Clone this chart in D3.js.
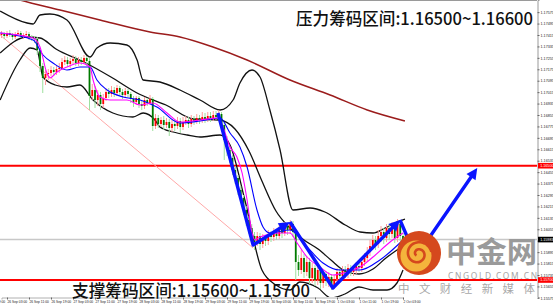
<!DOCTYPE html>
<html>
<head>
<meta charset="utf-8">
<script src="https://cdn.jsdelivr.net/npm/d3@7/dist/d3.min.js"></script>
<style>
  html, body { margin: 0; padding: 0; background: #fff; }
  svg { display: block; }
</style>
</head>
<body>
<svg id="chart" width="553" height="306"></svg>
<script>
'use strict';

// hourly candles, oldest first (open of each bar = previous close)
var firstOpen = 1.17415;
var closes = [
  1.17422, 1.17408, 1.17429, 1.17415, 1.17401, 1.17422, 1.17429, 1.17408, 1.17415, 1.17422,
  1.17401, 1.17394, 1.17387, 1.17310, 1.17198, 1.17114, 1.17142, 1.17149, 1.17170, 1.17156,
  1.17177, 1.17184, 1.17226, 1.17240, 1.17212, 1.17233, 1.17247, 1.17219, 1.17240, 1.17226,
  1.17254, 1.17233, 1.16988, 1.17030, 1.16960, 1.16995, 1.16932, 1.16974, 1.17016, 1.17002,
  1.17030, 1.17009, 1.17044, 1.17016, 1.16995, 1.17023, 1.17002, 1.16967, 1.16946, 1.16974,
  1.16932, 1.16918, 1.16960, 1.16939, 1.16967, 1.16778, 1.16834, 1.16792, 1.16820, 1.16785,
  1.16806, 1.16764, 1.16792, 1.16778, 1.16813, 1.16771, 1.16806, 1.16820, 1.16792, 1.16827,
  1.16813, 1.16834, 1.16820, 1.16841, 1.16827, 1.16848, 1.16834, 1.16855, 1.16841, 1.16862,
  1.16785, 1.16680, 1.16610, 1.16554, 1.16470, 1.16414, 1.16330, 1.16274, 1.16190, 1.16120,
  1.16064, 1.16008, 1.15966, 1.16008, 1.15952, 1.15994, 1.15973, 1.16022, 1.16001, 1.16036,
  1.16008, 1.16064, 1.16029, 1.16078, 1.16050, 1.16092, 1.16036, 1.15826, 1.15770, 1.15854,
  1.15756, 1.15826, 1.15714, 1.15784, 1.15700, 1.15770, 1.15679, 1.15742, 1.15693, 1.15721,
  1.15665, 1.15707, 1.15756, 1.15728, 1.15770, 1.15742, 1.15784, 1.15756, 1.15770, 1.15798,
  1.15784, 1.15826, 1.15854, 1.15896, 1.15938, 1.15980, 1.15952, 1.16008, 1.16036, 1.15994,
  1.16064, 1.16022, 1.16078, 1.15994, 1.16092, 1.16008, 1.15983
];
var highs = [
  1.17443, 1.17436, 1.17443, 1.17450, 1.17429, 1.17436, 1.17450, 1.17443, 1.17429, 1.17443,
  1.17436, 1.17415, 1.17408, 1.17401, 1.17324, 1.17219, 1.17170, 1.17177, 1.17198, 1.17191,
  1.17205, 1.17219, 1.17254, 1.17268, 1.17261, 1.17254, 1.17275, 1.17268, 1.17261, 1.17261,
  1.17275, 1.17268, 1.17254, 1.17072, 1.17058, 1.17030, 1.17016, 1.17002, 1.17044, 1.17044,
  1.17058, 1.17051, 1.17065, 1.17058, 1.17037, 1.17044, 1.17037, 1.17016, 1.16988, 1.16988,
  1.16988, 1.16953, 1.16981, 1.16974, 1.16995, 1.16981, 1.16862, 1.16855, 1.16841, 1.16848,
  1.16834, 1.16827, 1.16820, 1.16820, 1.16841, 1.16834, 1.16841, 1.16848, 1.16841, 1.16855,
  1.16848, 1.16862, 1.16855, 1.16876, 1.16869, 1.16876, 1.16876, 1.16883, 1.16883, 1.16890,
  1.16876, 1.16806, 1.16708, 1.16638, 1.16575, 1.16498, 1.16435, 1.16358, 1.16295, 1.16218,
  1.16148, 1.16092, 1.16036, 1.16036, 1.16029, 1.16022, 1.16015, 1.16050, 1.16043, 1.16064,
  1.16057, 1.16092, 1.16085, 1.16106, 1.16099, 1.16120, 1.16113, 1.16057, 1.15875, 1.15910,
  1.15882, 1.15868, 1.15854, 1.15819, 1.15805, 1.15798, 1.15784, 1.15770, 1.15763, 1.15756,
  1.15742, 1.15735, 1.15784, 1.15784, 1.15798, 1.15798, 1.15812, 1.15805, 1.15798, 1.15826,
  1.15826, 1.15854, 1.15889, 1.15931, 1.15980, 1.16015, 1.16008, 1.16050, 1.16078, 1.16064,
  1.16092, 1.16092, 1.16106, 1.16099, 1.16127, 1.16113, 1.16029
];
var lows = [
  1.17394, 1.17387, 1.17394, 1.17401, 1.17380, 1.17387, 1.17408, 1.17394, 1.17387, 1.17401,
  1.17380, 1.17373, 1.17359, 1.17275, 1.17156, 1.17009, 1.17065, 1.17100, 1.17128, 1.17128,
  1.17135, 1.17149, 1.17170, 1.17205, 1.17191, 1.17184, 1.17212, 1.17198, 1.17198, 1.17205,
  1.17212, 1.17198, 1.16890, 1.16960, 1.16904, 1.16918, 1.16890, 1.16904, 1.16953, 1.16974,
  1.16981, 1.16981, 1.16988, 1.16995, 1.16967, 1.16974, 1.16981, 1.16939, 1.16911, 1.16925,
  1.16904, 1.16890, 1.16897, 1.16918, 1.16925, 1.16743, 1.16757, 1.16764, 1.16771, 1.16750,
  1.16764, 1.16708, 1.16736, 1.16743, 1.16757, 1.16729, 1.16750, 1.16785, 1.16764, 1.16771,
  1.16785, 1.16792, 1.16792, 1.16799, 1.16799, 1.16806, 1.16806, 1.16813, 1.16820, 1.16827,
  1.16750, 1.16540, 1.16568, 1.16519, 1.16435, 1.16372, 1.16295, 1.16239, 1.16155, 1.16078,
  1.16022, 1.15966, 1.15910, 1.15938, 1.15910, 1.15924, 1.15938, 1.15945, 1.15966, 1.15973,
  1.15980, 1.15987, 1.15994, 1.16008, 1.16015, 1.16022, 1.16001, 1.15700, 1.15728, 1.15742,
  1.15714, 1.15728, 1.15672, 1.15679, 1.15658, 1.15665, 1.15637, 1.15644, 1.15658, 1.15651,
  1.15630, 1.15637, 1.15686, 1.15693, 1.15707, 1.15714, 1.15714, 1.15728, 1.15728, 1.15742,
  1.15756, 1.15756, 1.15798, 1.15826, 1.15868, 1.15910, 1.15910, 1.15924, 1.15966, 1.15952,
  1.15966, 1.15980, 1.15994, 1.15959, 1.15966, 1.15973, 1.15959
];

var timeTicks = [-6, 2, 10, 18, 26, 34, 42, 50, 58, 66, 74, 82, 90, 98, 106, 114, 122, 130, 138, 146];
var timeLabels = [
  '25 Sep 19:00', '26 Sep 03:00', '26 Sep 11:00', '26 Sep 19:00', '27 Sep 03:00',
  '27 Sep 11:00', '27 Sep 19:00', '28 Sep 03:00', '28 Sep 11:00', '28 Sep 19:00',
  '29 Sep 03:00', '29 Sep 11:00', '29 Sep 19:00', '30 Sep 03:00', '30 Sep 11:00',
  '30 Sep 19:00', '1 Oct 03:00', '1 Oct 11:00', '1 Oct 19:00', '2 Oct 03:00'
];
var priceTicks = [
  1.17575, 1.17495, 1.17415, 1.17335, 1.17255, 1.17175, 1.17095, 1.17015, 1.16935,
  1.16855, 1.16775, 1.16695, 1.16615, 1.16535, 1.16455, 1.16375, 1.16295, 1.16215,
  1.16135, 1.16055, 1.15975, 1.15895, 1.15815, 1.15735, 1.15655, 1.15575
];

// indicator lines as [candle, price]
var maFast = [
  [-0.5, 1.17429], [11.5, 1.17394], [14, 1.17331], [16.5, 1.17149], [17.6, 1.17114],
  [20.2, 1.17156], [23.8, 1.17191], [28.5, 1.17219], [32.2, 1.17191], [33.3, 1.17100],
  [35.8, 1.16981], [39.5, 1.16960], [45.6, 1.16960], [50.4, 1.16925], [55.1, 1.16939],
  [60.2, 1.16869], [64.9, 1.16806], [72.2, 1.16820], [78.4, 1.16834], [80.5, 1.16771],
  [83.1, 1.16631], [85.6, 1.16561], [87.5, 1.16449], [89.3, 1.16260], [91.1, 1.16029],
  [92.2, 1.15980], [94, 1.16001], [101.3, 1.16029], [104.9, 1.16029], [107.5, 1.15959],
  [111.1, 1.15861], [115.8, 1.15791], [120.5, 1.15735], [125.6, 1.15756], [130.4, 1.15791],
  [135.1, 1.15861], [141.3, 1.15966], [146, 1.16029]
];
var maSlow = [
  [-0.5, 1.17429], [11.5, 1.17380], [15.1, 1.17275], [18.7, 1.17219], [23.8, 1.17170],
  [28.5, 1.17191], [32.2, 1.17191], [34.7, 1.17100], [38.4, 1.17030], [44.2, 1.16981],
  [50.4, 1.16960], [56.5, 1.16911], [64.9, 1.16799], [72.2, 1.16813], [79.5, 1.16834],
  [83.1, 1.16729], [86.7, 1.16631], [89.3, 1.16491], [92.9, 1.16190], [95.1, 1.16071],
  [97.6, 1.16029], [104.9, 1.16050], [111.1, 1.15931], [116.9, 1.15819], [123.1, 1.15770],
  [130.4, 1.15770], [137.6, 1.15840], [146, 1.15980]
];
var bbUpper = [
  [-0.5, 1.17583], [9.3, 1.17499], [11.5, 1.17492], [14, 1.17555], [17.6, 1.17562],
  [23.8, 1.17520], [32.2, 1.17261], [34.7, 1.17324], [39.5, 1.17359], [45.6, 1.17345],
  [49.3, 1.17240], [51.5, 1.17100], [57.6, 1.17086], [64.9, 1.17030], [72.2, 1.16960],
  [79.5, 1.16890], [84.2, 1.16960], [86.7, 1.17079], [91.1, 1.17170], [94, 1.17121],
  [97.6, 1.16890], [101.3, 1.16610], [106, 1.16190], [112.2, 1.16204], [117.6, 1.16176],
  [125, 1.16085], [130.4, 1.16036], [135.1, 1.16029], [139.5, 1.16064], [143.8, 1.16106],
  [146.7, 1.16127]
];
var bbMiddle = [
  [-0.5, 1.17289], [9.3, 1.17401], [14, 1.17394], [19.8, 1.17317], [30, 1.17226],
  [39.8, 1.17121], [50, 1.17002], [59.8, 1.16925], [70, 1.16827], [79.1, 1.16820],
  [84.9, 1.16757], [90, 1.16603], [94.7, 1.16393], [99.8, 1.16183], [104.9, 1.16064],
  [110, 1.15980], [115.1, 1.15917], [119.8, 1.15840], [124.9, 1.15763], [130, 1.15742],
  [135.1, 1.15777], [139.8, 1.15854], [146, 1.15938]
];
var bbLower = [
  [-0.5, 1.16960], [6.7, 1.17240], [10.4, 1.17324], [12.9, 1.17310], [15.1, 1.17121],
  [19.5, 1.17065], [23.8, 1.17051], [28.5, 1.17065], [33.3, 1.16960], [40.5, 1.16869],
  [47.8, 1.16841], [51.5, 1.16869], [55.8, 1.16820], [57.6, 1.16771], [62.4, 1.16736],
  [67.5, 1.16715], [72.2, 1.16701], [79.5, 1.16715], [83.1, 1.16645], [88.5, 1.16260],
  [94.7, 1.15770], [99.8, 1.15665], [104.9, 1.15630], [108.5, 1.15686], [115.1, 1.15644],
  [119.8, 1.15574], [124.9, 1.15602], [130, 1.15651], [135.1, 1.15630], [140.2, 1.15630],
  [143.8, 1.15679], [146, 1.15770]
];
var maLong = [
  [-0.5, 1.17702], [6.7, 1.17660], [21.3, 1.17590], [35.8, 1.17520], [54, 1.17436],
  [64.9, 1.17401], [76.9, 1.17331], [89.3, 1.17240], [104.9, 1.17100], [119.5, 1.16995],
  [133, 1.16890], [146.7, 1.16813]
];

var resistance = 1.16500;
var support = 1.15700;
var lastPrice = 1.15983;

// hand drawn marks
var trendLine = [[-0.5, 1.17415], [91.5, 1.15924]];
var waveLegs = [
  [[78.7, 1.16869], [91.5, 1.15945], [104.9, 1.16106]],
  [[104.9, 1.16106], [120.5, 1.15644], [144.9, 1.16120]],
  [[144.9, 1.16120], [150.7, 1.15861], [173, 1.16484]]
];

var W = 553, H = 306;
var plotW = 537, plotH = 297;

var svg = d3.select('#chart');

var x = d3.scaleLinear().domain([0, 146]).range([1.5, 403]);
var y = d3.scaleLinear().domain([1.15581, 1.1766]).range([plotH, 0]);

svg.append('rect').attr('width', W).attr('height', H).attr('fill', '#fff');

svg.append('defs').append('clipPath').attr('id', 'plot-clip')
  .append('rect').attr('width', plotW).attr('height', plotH);

var plot = svg.append('g').attr('clip-path', 'url(#plot-clip)');

// horizontal levels
plot.append('line')
  .attr('x1', 0).attr('x2', plotW)
  .attr('y1', y(lastPrice)).attr('y2', y(lastPrice))
  .attr('stroke', '#c8c8c8').attr('stroke-width', 1.5);

[resistance, support].forEach(function (p) {
  plot.append('line')
    .attr('x1', 0).attr('x2', plotW)
    .attr('y1', y(p)).attr('y2', y(p))
    .attr('stroke', '#ff0000').attr('stroke-width', 2);
});

var line = d3.line()
  .x(function (d) { return x(d[0]); })
  .y(function (d) { return y(d[1]); });

plot.append('path').datum(trendLine)
  .attr('d', line)
  .attr('fill', 'none').attr('stroke', '#ffa8a8').attr('stroke-width', 1);

var smooth = d3.line()
  .x(function (d) { return x(d[0]); })
  .y(function (d) { return y(d[1]); })
  .curve(d3.curveMonotoneX);

function drawIndicator(points, color, width) {
  plot.append('path').datum(points)
    .attr('d', smooth)
    .attr('fill', 'none')
    .attr('stroke', color)
    .attr('stroke-width', width)
    .attr('stroke-linejoin', 'round');
}

drawIndicator(maLong, '#9b1c1c', 1.5);
drawIndicator(bbUpper, '#111', 1.3);
drawIndicator(bbMiddle, '#111', 1.3);
drawIndicator(bbLower, '#111', 1.3);

// candles
var candles = closes.map(function (c, i) {
  return { i: i, o: i === 0 ? firstOpen : closes[i - 1], c: c, h: highs[i], l: lows[i] };
});

var bars = plot.append('g').selectAll('g').data(candles).enter().append('g');

bars.append('line')
  .attr('x1', function (d) { return x(d.i); })
  .attr('x2', function (d) { return x(d.i); })
  .attr('y1', function (d) { return y(d.h); })
  .attr('y2', function (d) { return y(d.l); })
  .attr('stroke', function (d) { return d.c >= d.o ? '#ff9c9c' : '#9ee09e'; })
  .attr('stroke-width', 1);

bars.append('rect')
  .attr('x', function (d) { return x(d.i) - 0.9; })
  .attr('width', 1.8)
  .attr('y', function (d) { return y(Math.max(d.o, d.c)); })
  .attr('height', function (d) { return Math.max(0.8, Math.abs(y(d.o) - y(d.c))); })
  .attr('fill', function (d) { return d.c >= d.o ? '#ff0000' : '#007a00'; });

drawIndicator(maSlow, '#0000ff', 1.1);
drawIndicator(maFast, '#ff00ff', 1.1);

// wave arrows
var arrowColor = '#0a14ff';
waveLegs.forEach(function (leg) {
  var pts = leg.map(function (d) { return [x(d[0]), y(d[1])]; });
  var n = pts.length;
  var tip = pts[n - 1], prev = pts[n - 2];
  var a = Math.atan2(tip[1] - prev[1], tip[0] - prev[0]);
  var len = 11, half = 5.5;
  var base = [tip[0] - (len - 2) * Math.cos(a), tip[1] - (len - 2) * Math.sin(a)];
  var shaft = pts.slice(0, n - 1).concat([base]);

  plot.append('path')
    .attr('d', d3.line()(shaft))
    .attr('fill', 'none').attr('stroke', arrowColor)
    .attr('stroke-width', 3.4).attr('stroke-linejoin', 'round');

  var bx = tip[0] - len * Math.cos(a), by = tip[1] - len * Math.sin(a);
  plot.append('path')
    .attr('d', d3.line()([
      tip,
      [bx - half * Math.sin(a), by + half * Math.cos(a)],
      [bx + half * Math.sin(a), by - half * Math.cos(a)]
    ]) + 'Z')
    .attr('fill', arrowColor);
});

// frame
svg.append('line').attr('x1', 0).attr('x2', plotW).attr('y1', 0.5).attr('y2', 0.5)
  .attr('stroke', '#9a9a9a');

// price axis
var yAxis = svg.append('g')
  .attr('transform', 'translate(' + (plotW + 0.5) + ',0)')
  .call(d3.axisRight(y).tickValues(priceTicks).tickSize(2).tickPadding(1)
    .tickFormat(d3.format('.5f')));
yAxis.select('.domain').attr('stroke', '#9a9a9a');
yAxis.selectAll('.tick line').attr('stroke', '#666');
yAxis.selectAll('text')
  .attr('font-family', 'Liberation Sans, Arial, sans-serif')
  .attr('font-size', 3.7).attr('fill', '#222');

function priceTag(p, bg) {
  var g = svg.append('g').attr('transform', 'translate(' + (plotW + 1) + ',' + y(p) + ')');
  g.append('rect').attr('x', 0).attr('y', -2.8).attr('width', 15).attr('height', 5.6)
    .attr('fill', bg);
  g.append('text').attr('x', 2.2).attr('y', 1.3)
    .attr('font-family', 'Liberation Sans, Arial, sans-serif')
    .attr('font-size', 3.7).attr('fill', '#fff')
    .text(d3.format('.5f')(p));
}
priceTag(resistance, '#ff0000');
priceTag(support, '#ff0000');
priceTag(lastPrice, '#000');

// time axis
var xAxis = svg.append('g')
  .attr('transform', 'translate(0,' + (plotH + 0.5) + ')')
  .call(d3.axisBottom(x).tickValues(timeTicks).tickSize(2).tickPadding(1.5)
    .tickFormat(function (d, i) { return timeLabels[i]; }));
xAxis.select('.domain').attr('stroke', '#b0b0b0');
xAxis.selectAll('.tick line').attr('stroke', '#666');
xAxis.selectAll('text')
  .attr('text-anchor', 'start')
  .attr('font-family', 'Liberation Sans, Arial, sans-serif')
  .attr('font-size', 3.3).attr('fill', '#222');

// logo watermark
var logo = svg.append('g');
logo.append('circle').attr('cx', 419).attr('cy', 253).attr('r', 22).attr('fill', '#d5491d');
logo.append('circle').attr('cx', 416).attr('cy', 256).attr('r', 15.5).attr('fill', '#f4b43c');
var spiral = [];
for (var t = 0; t <= 3.2 * Math.PI; t += 0.2) {
  var r = 2 + t * 1.15;
  spiral.push([418 + r * Math.cos(t + 2.4), 254 + r * Math.sin(t + 2.4)]);
}
logo.append('path').attr('d', d3.line().curve(d3.curveBasis)(spiral))
  .attr('fill', 'none').attr('stroke', '#d5491d').attr('stroke-width', 2.6);

logo.append('text').attr('x', 446).attr('y', 262.5)
  .attr('font-family', 'Noto Sans CJK SC, sans-serif').attr('font-weight', 'bold')
  .attr('font-size', 29).attr('fill', '#9a9a9a').attr('textLength', 91)
  .attr('lengthAdjust', 'spacingAndGlyphs')
  .text('中金网');
logo.append('text').attr('x', 448).attr('y', 278.5)
  .attr('font-family', 'Noto Sans, sans-serif')
  .attr('font-size', 8.4).attr('fill', '#a4a4a4').attr('textLength', 89)
  .text('CNGOLD.COM.CN');
logo.append('text').attr('x', 398).attr('y', 292.5)
  .attr('font-family', 'Noto Sans CJK SC, sans-serif')
  .attr('font-size', 11.5).attr('fill', '#a8a8a8').attr('textLength', 137)
  .text('中文财经新媒体');

// zone captions
svg.append('text').attr('x', 296).attr('y', 25)
  .attr('font-family', 'Noto Sans CJK SC, sans-serif').attr('font-weight', 500)
  .attr('font-size', 17).attr('fill', '#111').attr('textLength', 237)
  .attr('lengthAdjust', 'spacingAndGlyphs')
  .text('压力筹码区间:1.16500~1.16600');
svg.append('text').attr('x', 72).attr('y', 296.5)
  .attr('font-family', 'Noto Sans CJK SC, sans-serif').attr('font-weight', 500)
  .attr('font-size', 17.5).attr('fill', '#111').attr('textLength', 238)
  .attr('lengthAdjust', 'spacingAndGlyphs')
  .text('支撑筹码区间:1.15600~1.15700');
</script>
</body>
</html>
